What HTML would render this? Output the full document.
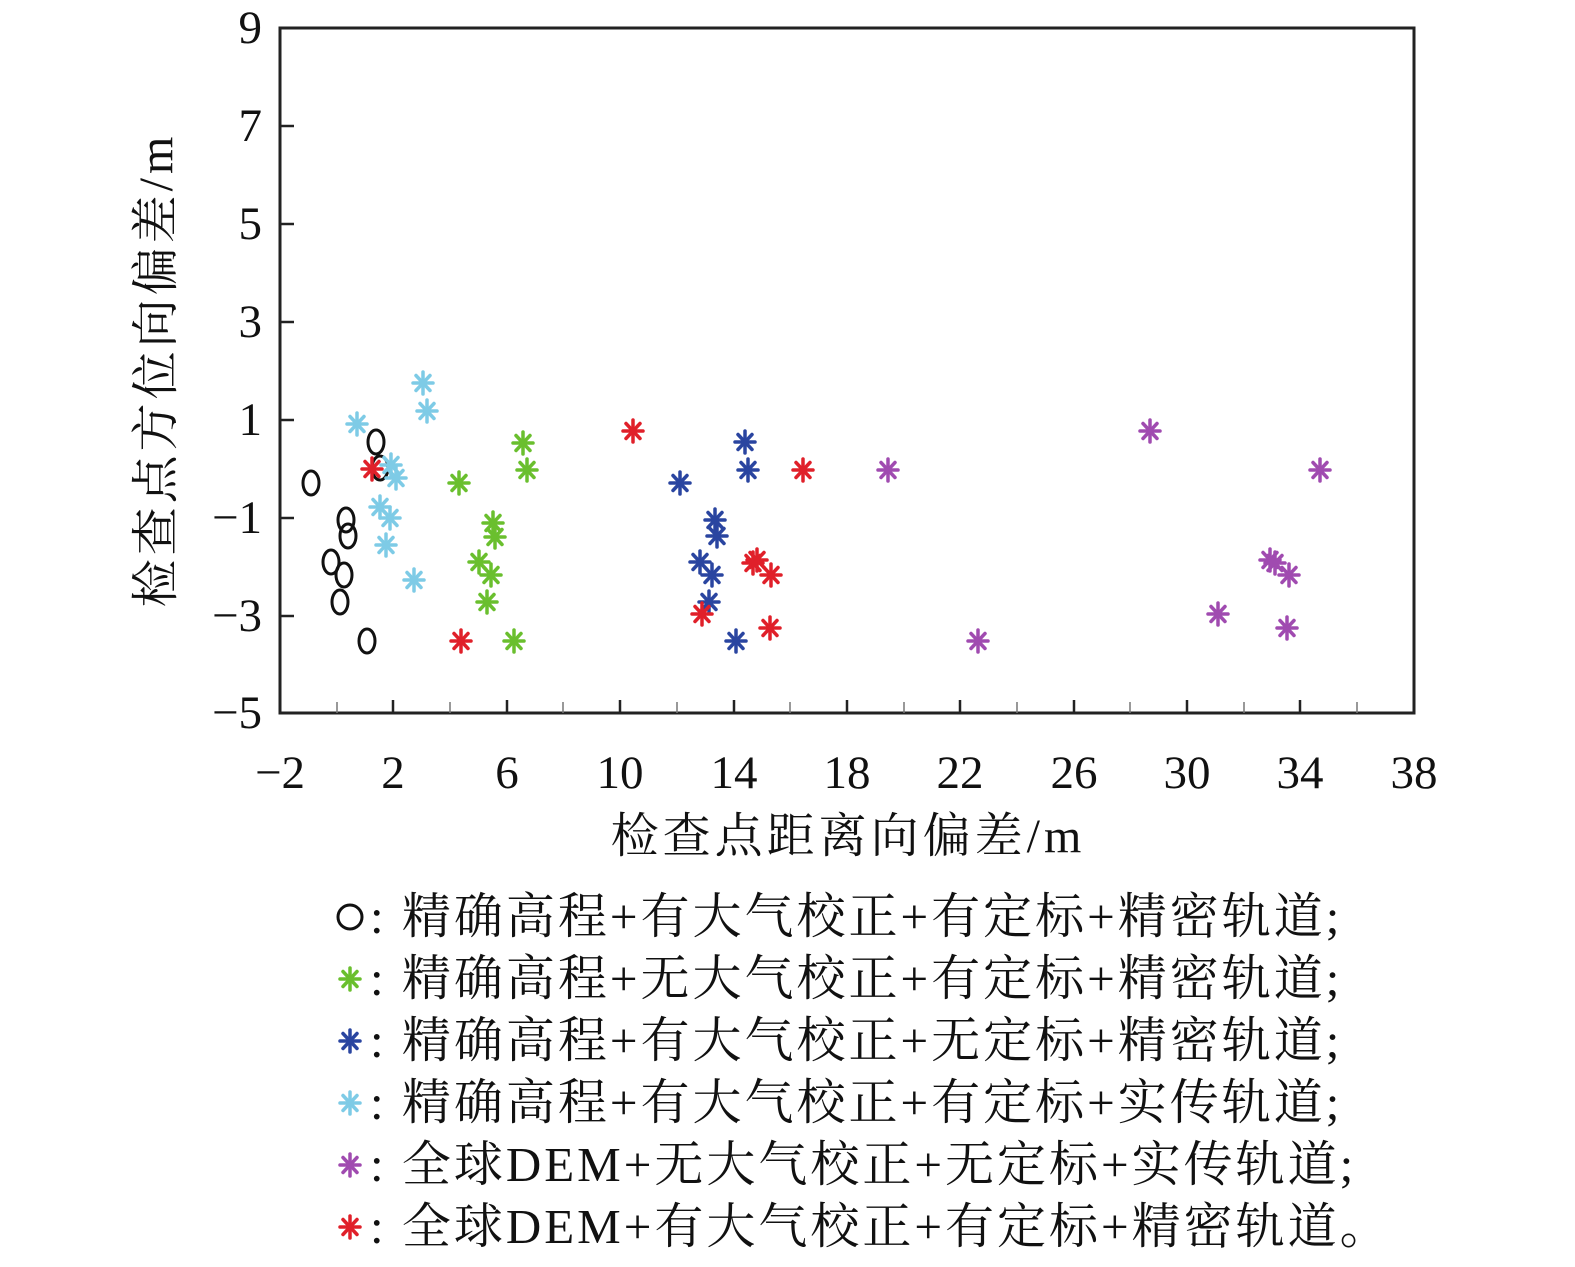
<!DOCTYPE html><html><head><meta charset="utf-8"><style>body{margin:0;background:#fff}</style></head><body>
<svg width="1575" height="1262" xmlns="http://www.w3.org/2000/svg" font-family="Liberation Serif, Noto Serif CJK SC, serif">
<defs>
<g id="a" stroke-width="3.5" stroke-linecap="round"><line x1="-10" y1="0" x2="10" y2="0"/><line x1="0" y1="-11" x2="0" y2="11"/><line x1="-7" y1="-7.5" x2="7" y2="7.5"/><line x1="-7" y1="7.5" x2="7" y2="-7.5"/></g>
</defs>
<rect x="280" y="28" width="1134" height="685" fill="none" stroke="#222" stroke-width="3"/>
<g stroke="#222" stroke-width="2.5">
<line x1="280" y1="126" x2="294" y2="126"/><line x1="280" y1="224" x2="294" y2="224"/><line x1="280" y1="322" x2="294" y2="322"/><line x1="280" y1="420" x2="294" y2="420"/><line x1="280" y1="518" x2="294" y2="518"/><line x1="280" y1="616" x2="294" y2="616"/>
<line x1="393" y1="713" x2="393" y2="700"/><line x1="507" y1="713" x2="507" y2="700"/><line x1="620" y1="713" x2="620" y2="700"/><line x1="734" y1="713" x2="734" y2="700"/><line x1="847" y1="713" x2="847" y2="700"/><line x1="960" y1="713" x2="960" y2="700"/><line x1="1074" y1="713" x2="1074" y2="700"/><line x1="1187" y1="713" x2="1187" y2="700"/><line x1="1300" y1="713" x2="1300" y2="700"/>
</g>
<g stroke="#777" stroke-width="1.5">
<line x1="337" y1="713" x2="337" y2="702"/><line x1="450" y1="713" x2="450" y2="702"/><line x1="563" y1="713" x2="563" y2="702"/><line x1="677" y1="713" x2="677" y2="702"/><line x1="790" y1="713" x2="790" y2="702"/><line x1="904" y1="713" x2="904" y2="702"/><line x1="1017" y1="713" x2="1017" y2="702"/><line x1="1130" y1="713" x2="1130" y2="702"/><line x1="1244" y1="713" x2="1244" y2="702"/><line x1="1357" y1="713" x2="1357" y2="702"/>
</g>
<g font-size="47" fill="#111" text-anchor="end">
<text x="262" y="43">9</text><text x="262" y="141">7</text><text x="262" y="239">5</text><text x="262" y="337">3</text><text x="262" y="435">1</text><text x="262" y="533">−1</text><text x="262" y="631">−3</text><text x="262" y="728">−5</text>
</g>
<g font-size="47" fill="#111" text-anchor="middle">
<text x="280" y="788">−2</text><text x="393" y="788">2</text><text x="507" y="788">6</text><text x="620" y="788">10</text><text x="734" y="788">14</text><text x="847" y="788">18</text><text x="960" y="788">22</text><text x="1074" y="788">26</text><text x="1187" y="788">30</text><text x="1300" y="788">34</text><text x="1414" y="788">38</text>
</g>
<g font-size="48" fill="#111" text-anchor="middle" letter-spacing="4">
<text x="848" y="852">检查点距离向偏差/m</text>
<text transform="translate(172,370) rotate(-90)">检查点方位向偏差/m</text>
</g>
<g fill="none" stroke="#111" stroke-width="3">
<ellipse cx="311" cy="483" rx="8" ry="12"/><ellipse cx="376" cy="442" rx="8" ry="12"/><ellipse cx="380" cy="468" rx="8" ry="12"/><ellipse cx="346" cy="520" rx="8" ry="12"/><ellipse cx="348" cy="536" rx="8" ry="12"/><ellipse cx="331" cy="562" rx="8" ry="12"/><ellipse cx="344" cy="575" rx="8" ry="12"/><ellipse cx="340" cy="602" rx="8" ry="12"/><ellipse cx="367" cy="641" rx="8" ry="12"/>
</g>
<g stroke="#7ecbe6"><use href="#a" x="357" y="424"/><use href="#a" x="423" y="383"/><use href="#a" x="427" y="411"/><use href="#a" x="391" y="465"/><use href="#a" x="396" y="478"/><use href="#a" x="380" y="507"/><use href="#a" x="390" y="518"/><use href="#a" x="386" y="545"/><use href="#a" x="414" y="580"/></g>
<g stroke="#6abf2e"><use href="#a" x="459" y="483"/><use href="#a" x="523" y="443"/><use href="#a" x="527" y="470"/><use href="#a" x="493" y="523"/><use href="#a" x="495" y="537"/><use href="#a" x="479" y="562"/><use href="#a" x="491" y="575"/><use href="#a" x="487" y="602"/><use href="#a" x="514" y="641"/></g>
<g stroke="#2a45a0"><use href="#a" x="680" y="483"/><use href="#a" x="745" y="442"/><use href="#a" x="748" y="470"/><use href="#a" x="715" y="520"/><use href="#a" x="717" y="536"/><use href="#a" x="700" y="562"/><use href="#a" x="712" y="575"/><use href="#a" x="709" y="602"/><use href="#a" x="736" y="641"/></g>
<g stroke="#a04bb0"><use href="#a" x="888" y="470"/><use href="#a" x="1150" y="431"/><use href="#a" x="1320" y="470"/><use href="#a" x="978" y="641"/><use href="#a" x="1270" y="560"/><use href="#a" x="1275" y="563"/><use href="#a" x="1289" y="575"/><use href="#a" x="1218" y="614"/><use href="#a" x="1287" y="628"/></g>
<g stroke="#e0202a"><use href="#a" x="372" y="469"/><use href="#a" x="633" y="431"/><use href="#a" x="461" y="641"/><use href="#a" x="803" y="470"/><use href="#a" x="702" y="614"/><use href="#a" x="753" y="563"/><use href="#a" x="757" y="560"/><use href="#a" x="771" y="575"/><use href="#a" x="770" y="628"/></g>
<ellipse cx="350" cy="917" rx="12" ry="12" fill="none" stroke="#111" stroke-width="3"/>
<use href="#a" x="350" y="979" stroke="#6abf2e"/><use href="#a" x="350" y="1041" stroke="#2a45a0"/><use href="#a" x="350" y="1103" stroke="#7ecbe6"/><use href="#a" x="350" y="1165" stroke="#a04bb0"/><use href="#a" x="350" y="1227" stroke="#e0202a"/>
<g font-size="49" fill="#111" letter-spacing="3">
<text x="370" y="933">: 精确高程+有大气校正+有定标+精密轨道;</text>
<text x="370" y="995">: 精确高程+无大气校正+有定标+精密轨道;</text>
<text x="370" y="1057">: 精确高程+有大气校正+无定标+精密轨道;</text>
<text x="370" y="1119">: 精确高程+有大气校正+有定标+实传轨道;</text>
<text x="370" y="1181">: 全球DEM+无大气校正+无定标+实传轨道;</text>
<text x="370" y="1243">: 全球DEM+有大气校正+有定标+精密轨道。</text>
</g>
</svg>
</body></html>
